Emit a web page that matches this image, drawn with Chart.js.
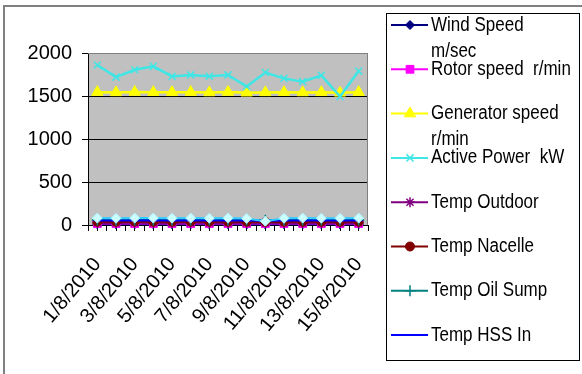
<!DOCTYPE html>
<html>
<head>
<meta charset="utf-8">
<script src="https://cdn.jsdelivr.net/npm/chart.js@4.4.1/dist/chart.umd.min.js"></script>
<style>
  html, body { margin: 0; padding: 0; background: #ffffff; }
  #wrap { position: relative; width: 582px; height: 374px; }
</style>
</head>
<body>
<div id="wrap"><canvas id="c"></canvas></div>
<script>
// ---------- data ----------
const categories = ['1/8/2010','2/8/2010','3/8/2010','4/8/2010','5/8/2010','6/8/2010','7/8/2010','8/8/2010',
                    '9/8/2010','10/8/2010','11/8/2010','12/8/2010','13/8/2010','14/8/2010','15/8/2010'];
const yTickValues = [0, 500, 1000, 1500, 2000];

const seriesNames = ['Wind Speed m/sec', 'Rotor speed  r/min', 'Generator speed r/min', 'Active Power  kW',
                     'Temp Outdoor', 'Temp Nacelle', 'Temp Oil Sump', 'Temp HSS In', 'Series 9'];

const windSpeed      = [8, 8, 8, 8, 8, 8, 8, 8, 7, 7, 8, 8, 8, 7, 8];
const rotorSpeed     = [16, 16, 16, 16, 16, 16, 16, 16, 16, 16, 16, 16, 16, 16, 16];
const generatorSpeed = [1545, 1542, 1546, 1544, 1543, 1545, 1541, 1546, 1538, 1542, 1544, 1541, 1543, 1537, 1545];
const activePower    = [1860, 1720, 1805, 1845, 1728, 1745, 1730, 1745, 1610, 1773, 1705, 1667, 1740, 1495, 1790];
const tempOutdoor    = [24, 24, 25, 24, 24, 25, 24, 24, 23, 23, 24, 24, 24, 23, 24];
const tempNacelle    = [38, 38, 39, 38, 38, 39, 38, 38, 37, 36, 38, 38, 38, 37, 38];
const tempOilSump    = [58, 58, 59, 58, 58, 59, 58, 58, 57, 55, 58, 58, 58, 57, 58];
const tempHSSIn      = [52, 52, 53, 52, 52, 53, 52, 52, 51, 50, 52, 52, 52, 51, 52];
const series9        = [80, 78, 80, 80, 79, 80, 79, 80, 76, 45, 78, 80, 79, 78, 80];

const seriesValues = [windSpeed, rotorSpeed, generatorSpeed, activePower, tempOutdoor,
                      tempNacelle, tempOilSump, tempHSSIn, series9];

// ---------- styles ----------
const FONT = "'Liberation Sans', Arial, sans-serif";
const styles = [
  { line: '#000080', fill: '#000080', point: 'rectRot',  r: 4.5, w: 2 },
  { line: '#ff00ff', fill: '#ff00ff', point: 'rect',     r: 5.5, w: 2 },
  { line: '#ffff00', fill: '#ffff00', point: 'triangle', r: 6.5, w: 2.5 },
  { line: '#3fe6e6', fill: '#3fe6e6', point: 'crossRot', r: 5,   w: 2.5 },
  { line: '#800080', fill: '#800080', point: 'star',     r: 5,   w: 2 },
  { line: '#800000', fill: '#800000', point: 'circle',   r: 4.5, w: 2 },
  { line: '#008080', fill: '#008080', point: 'cross',    r: 5.5, w: 2 },
  { line: '#0000ff', fill: '#0000ff', point: 'line',     r: 4,   w: 2 },
  { line: '#33ccff', fill: '#ccffff', point: 'rectRot',  r: 5,   w: 2, border: '#aaf5ff', hidden: true }
];

const datasets = seriesValues.map((vals, i) => {
  const s = styles[i];
  return {
    label: seriesNames[i],
    data: vals,
    xAxisID: 'x',
    yAxisID: 'y',
    borderColor: s.line,
    backgroundColor: s.fill,
    pointBackgroundColor: s.fill,
    pointBorderColor: s.border || s.line,
    pointStyle: s.point,
    pointRadius: s.r,
    pointHoverRadius: s.r,
    pointBorderWidth: (s.point === 'crossRot' || s.point === 'cross' || s.point === 'star' || s.point === 'line') ? 1.5 : 1,
    borderWidth: s.w,
    tension: 0,
    clip: false,
    order: 20 - i,
    inLegend: !s.hidden
  };
});

// ---------- plugins ----------
const framePlugin = {
  id: 'frame',
  beforeDraw(chart) {
    const { ctx, chartArea: a } = chart;
    ctx.save();
    ctx.fillStyle = '#ffffff';
    ctx.fillRect(0, 0, chart.width, chart.height);
    ctx.strokeStyle = '#808080';
    ctx.lineWidth = 2;
    ctx.beginPath();
    ctx.moveTo(4, chart.height);
    ctx.lineTo(4, 6);
    ctx.lineTo(chart.width, 6);
    ctx.stroke();
    ctx.fillStyle = '#c0c0c0';
    ctx.fillRect(a.left, a.top, a.right - a.left, a.bottom - a.top);
    ctx.restore();
  },
  beforeDatasetsDraw(chart) {
    const { ctx, chartArea: a } = chart;
    ctx.save();
    ctx.strokeStyle = '#808080';
    ctx.lineWidth = 1;
    ctx.beginPath();
    ctx.moveTo(a.left, a.top + 0.5);
    ctx.lineTo(a.right - 0.5, a.top + 0.5);
    ctx.lineTo(a.right - 0.5, a.bottom);
    ctx.stroke();
    ctx.restore();
  }
};

const CONDENSE = 0.85;
function textW(ctx, t) { return ctx.measureText(t).width * CONDENSE; }
function wrapText(ctx, text, maxW) {
  const words = text.split(' ');
  const lines = [];
  let cur = '';
  words.forEach(w => {
    const test = cur === '' ? w : cur + ' ' + w;
    if (cur !== '' && textW(ctx, test) > maxW) {
      lines.push(cur);
      cur = w;
    } else {
      cur = test;
    }
  });
  if (cur !== '') lines.push(cur);
  return lines;
}

const legendPlugin = {
  id: 'boxLegend',
  afterDraw(chart) {
    const ctx = chart.ctx;
    ctx.save();
    ctx.strokeStyle = '#000000';
    ctx.lineWidth = 1;
    ctx.strokeRect(386.5, 13.5, 193, 347);
    ctx.font = '20px ' + FONT;
    ctx.textBaseline = 'middle';
    ctx.textAlign = 'left';
    let k = 0;
    chart.data.datasets.forEach(ds => {
      if (!ds.inLegend) return;
      const y = 25 + k * 44.3;
      k++;
      ctx.strokeStyle = ds.borderColor;
      ctx.lineWidth = 2;
      ctx.beginPath();
      ctx.moveTo(391, y);
      ctx.lineTo(428, y);
      ctx.stroke();
      ctx.fillStyle = ds.pointBackgroundColor;
      ctx.strokeStyle = ds.pointBorderColor;
      ctx.lineWidth = ds.pointBorderWidth;
      if (Chart.helpers && Chart.helpers.drawPoint) {
        Chart.helpers.drawPoint(ctx, { pointStyle: ds.pointStyle, radius: ds.pointRadius, rotation: 0, borderWidth: ds.pointBorderWidth }, 410, y);
      }
      ctx.fillStyle = '#000000';
      const lines = wrapText(ctx, ds.label, 142);
      lines.forEach((t, j) => ctx.fillText(t, 431, y + j * 26, textW(ctx, t)));
    });
    ctx.restore();
  }
};

// ---------- chart ----------
new Chart(document.getElementById('c'), {
  type: 'line',
  data: { labels: categories, datasets: datasets },
  plugins: [framePlugin, legendPlugin],
  options: {
    responsive: true,
    maintainAspectRatio: false,
    animation: false,
    events: [],
    layout: { padding: { left: 0, right: 214, top: 53, bottom: 0 } },
    plugins: { legend: { display: false }, tooltip: { enabled: false }, title: { display: false } },
    scales: {
      xMinor: {
        type: 'linear', position: 'bottom', weight: -1,
        min: 0, max: categories.length * 2, offset: false,
        ticks: { display: false, stepSize: 1, maxTicksLimit: 100, autoSkip: false },
        grid: { drawOnChartArea: false, drawTicks: true, tickLength: 6, color: '#000000', tickColor: '#000000' },
        border: { display: true, color: '#000000', width: 1 },
        afterFit: s => { s.height = 0; }
      },
      x: {
        type: 'category', position: 'bottom', weight: 1, offset: true,
        grid: { display: false, drawTicks: false },
        border: { display: false },
        ticks: {
          autoSkip: false, minRotation: 50, maxRotation: 50, padding: 28, color: '#000000',
          font: { family: FONT, size: 20 },
          callback: (v, i) => (i % 2 === 0 ? categories[i] : '')
        },
        afterFit: s => { s.height = 149; }
      },
      y: {
        min: yTickValues[0], max: yTickValues[yTickValues.length - 1],
        ticks: {
          stepSize: yTickValues[1] - yTickValues[0], color: '#000000', padding: 10,
          font: { family: FONT, size: 20 },
          callback: v => String(v)
        },
        grid: { color: c => (c.tick && c.tick.value === yTickValues[yTickValues.length - 1]) ? '#808080' : '#000000', tickLength: 6, tickColor: '#000000', lineWidth: 1 },
        border: { color: '#000000', width: 1 },
        afterFit: s => { s.width = 88; }
      }
    }
  }
});
</script>
</body>
</html>
